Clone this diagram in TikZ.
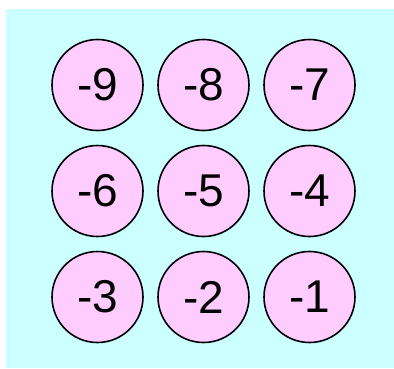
\documentclass[tikz,border=0pt]{standalone}
\usepackage{fontspec}
\setmainfont{Liberation Sans}
\definecolor{bgcyan}{HTML}{CCFFFF}
\definecolor{ballpink}{HTML}{FFCCFF}
\tikzset{ball/.style={circle,draw=black,line width=1.6pt,fill=ballpink,minimum size=91pt,inner sep=0pt,font=\fontsize{46}{46}\selectfont}}
\begin{document}
\begin{tikzpicture}[x=1pt,y=-1pt]
\useasboundingbox (0,0) rectangle (394,368);
\fill[bgcyan] (6,9) rectangle (394,368);
\node[ball] (n9) at (97.5,85) {-9};
\node[ball] (n8) at (203.5,85) {-8};
\node[ball] (n7) at (309.5,85) {-7};
\node[ball] (n6) at (97.5,191) {-6};
\node[ball] (n5) at (203.5,191) {-5};
\node[ball] (n4) at (309.5,191) {-4};
\node[ball] (n3) at (97.5,297) {-3};
\node[ball] (n2) at (203.5,297) {-2};
\node[ball] (n1) at (309.5,297) {-1};
\end{tikzpicture}
\end{document}
